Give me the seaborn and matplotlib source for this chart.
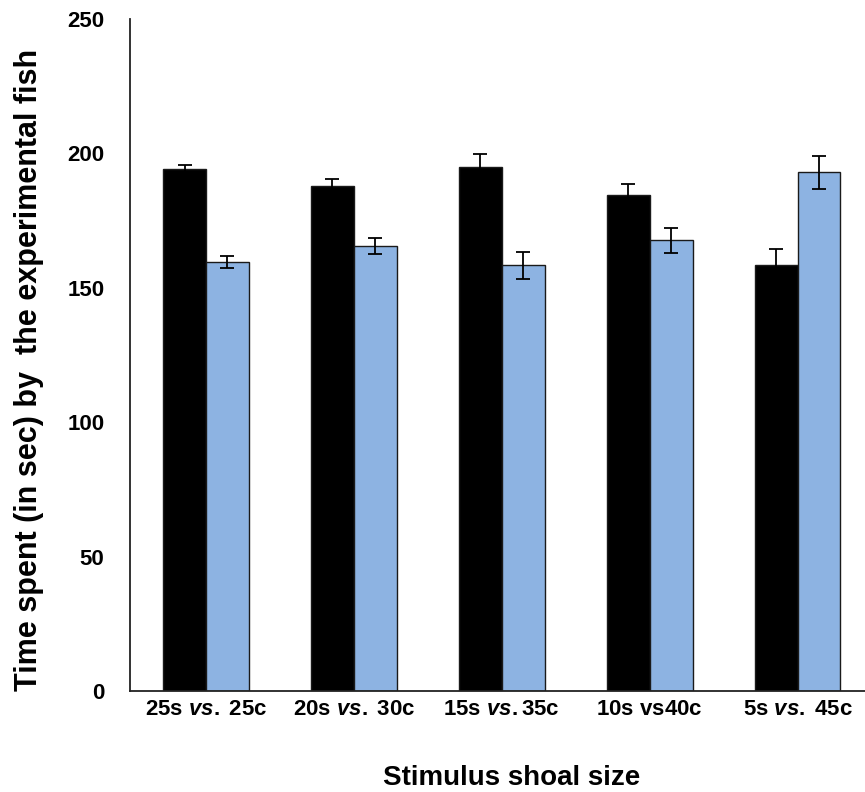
import matplotlib
matplotlib.use("Agg")
import matplotlib.pyplot as plt
import seaborn as sns
import pandas as pd

# Stimulus pairings (s = same-size shoal, c = comparison shoal)
groups = ["25s vs. 25c", "20s vs. 30c", "15s vs.35c", "10s vs40c", "5s vs. 45c"]
tick_labels = [
    r"25s $\mathit{vs.}\;$25c",
    r"20s $\mathit{vs.}\;$30c",
    r"15s $\mathit{vs.}$35c",
    r"10s $\mathrm{vs}$40c",
    r"5s $\mathit{vs.}\;$45c",
]
series = ["s", "c"]
time_s = [194.2, 187.7, 195.0, 184.6, 158.5]
time_c = [159.6, 165.5, 158.3, 167.6, 192.9]
err_s = [1.5, 2.9, 4.6, 4.2, 6.0]
err_c = [2.4, 3.0, 5.0, 4.5, 6.1]

sns.set_style("white")
plt.rcParams["font.family"] = ["Liberation Sans", "DejaVu Sans"]
plt.rcParams["font.weight"] = "bold"
plt.rcParams["mathtext.fontset"] = "custom"
plt.rcParams["mathtext.it"] = "Liberation Sans:italic:bold"
plt.rcParams["mathtext.rm"] = "Liberation Sans"
for key in ["text.color", "axes.labelcolor", "xtick.color", "ytick.color"]:
    plt.rcParams[key] = "black"

df = pd.DataFrame({
    "group": groups * 2,
    "series": [series[0]] * len(groups) + [series[1]] * len(groups),
    "time": time_s + time_c,
})

fig = plt.figure(figsize=(8.65, 7.92), dpi=100)
ax = fig.add_axes([130 / 865, 1 - 691 / 792, 1 - 130 / 865, (691 - 19) / 792])

sns.barplot(
    data=df, x="group", y="time", hue="series", order=groups, hue_order=series,
    palette={"s": "#000000", "c": "#8DB3E2"}, width=0.58, errorbar=None,
    legend=False, ax=ax, edgecolor="#1a1a1a", linewidth=1.0, saturation=1,
)

for container, errs in zip(ax.containers, [err_s, err_c]):
    xs = [p.get_x() + p.get_width() / 2 for p in container.patches]
    hs = [p.get_height() for p in container.patches]
    ax.errorbar(xs, hs, yerr=errs, fmt="none", ecolor="black",
                elinewidth=1.3, capsize=4.7, capthick=1.3, zorder=5)

ax.set_ylim(0, 250)
ax.set_yticks([0, 50, 100, 150, 200, 250])
ax.set_xlim(-0.514, 4.456)
ax.set_xticks(range(len(groups)))
ax.set_xticklabels(tick_labels)
ax.set_xlabel("")
ax.set_ylabel("")

for side in ["top", "right"]:
    ax.spines[side].set_visible(False)
for side in ["left", "bottom"]:
    ax.spines[side].set_color("#222222")
    ax.spines[side].set_linewidth(1.3)

ax.tick_params(axis="y", direction="out", length=5.5, width=1.1, color="#222222",
               pad=13, labelsize=16)
ax.tick_params(axis="x", length=0, pad=6, labelsize=16)
for lbl in ax.get_yticklabels() + ax.get_xticklabels():
    lbl.set_fontweight("bold")

fig.text(14 / 865, 1 - 370 / 792, "Time spent (in sec) by  the experimental fish",
         rotation=90, ha="left", va="center", fontsize=22, fontweight="bold")
fig.text(512 / 865, 1 - 785 / 792, "Stimulus shoal size",
         ha="center", va="baseline", fontsize=20, fontweight="bold")

fig.savefig("out.png", dpi=100)
